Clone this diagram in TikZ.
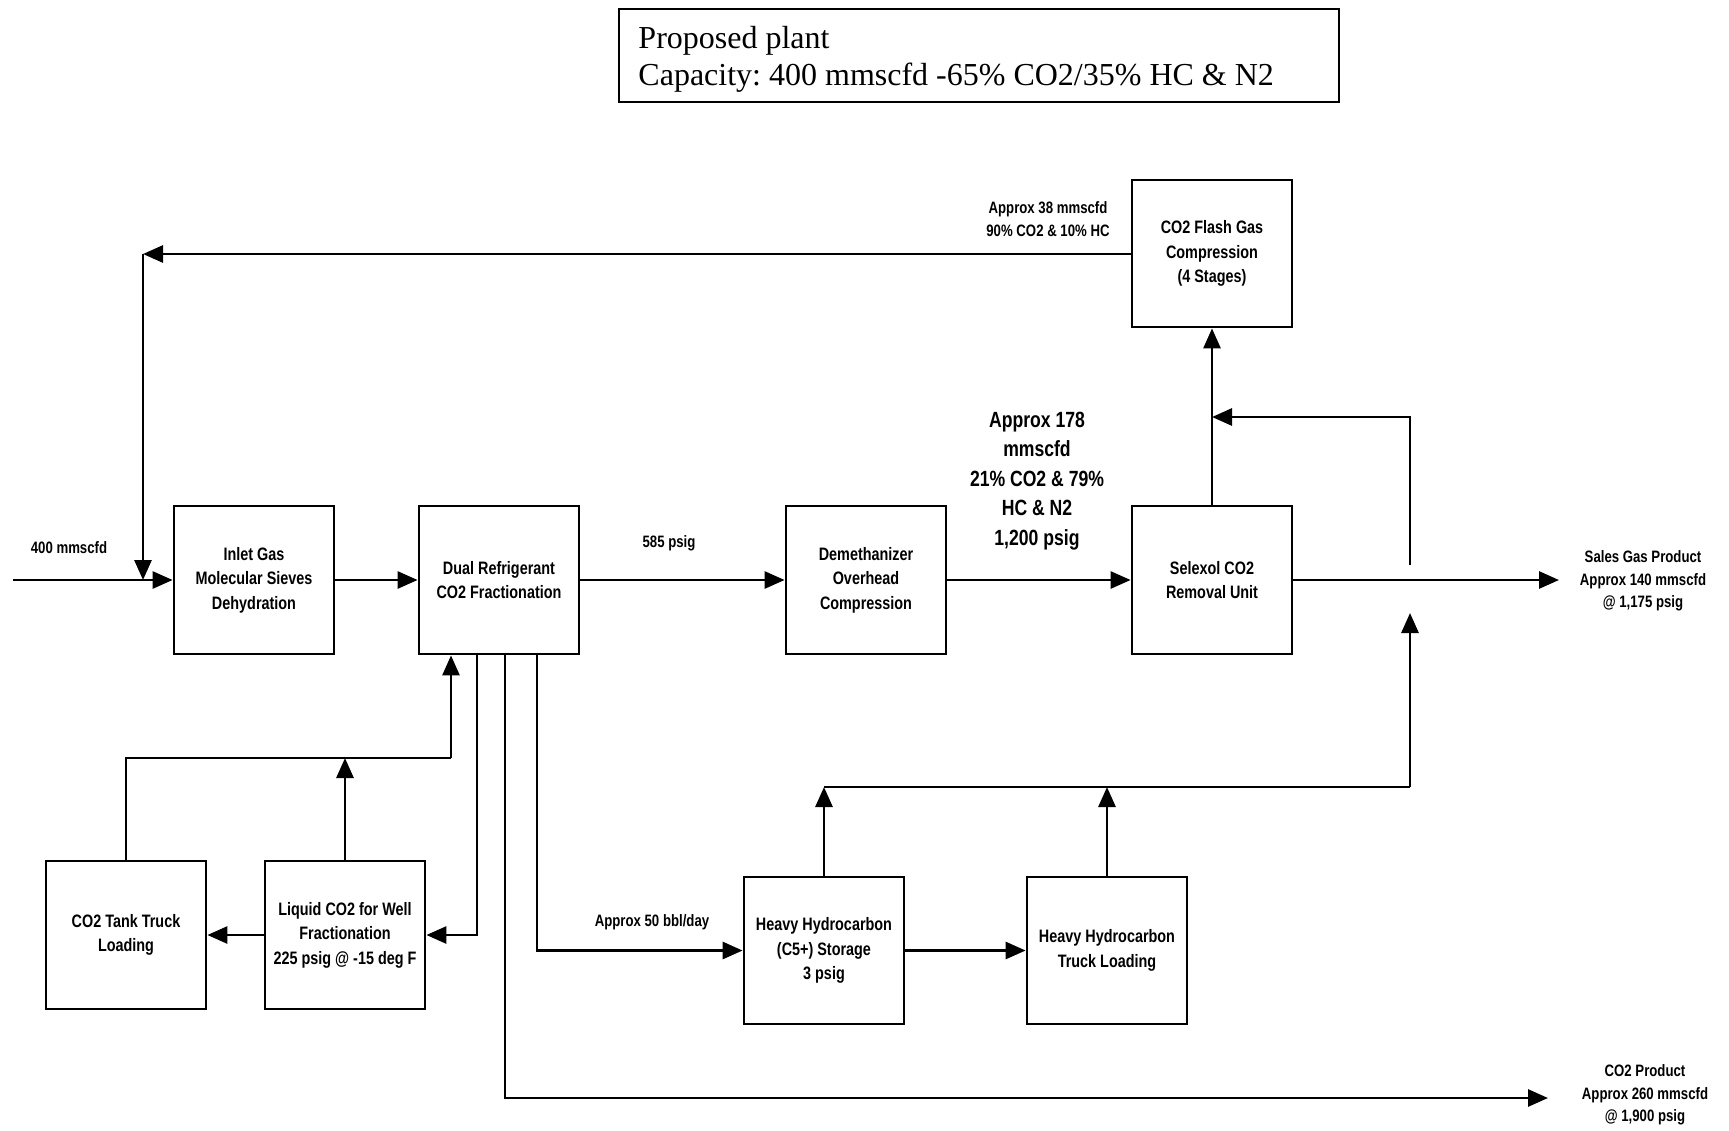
\documentclass[tikz,border=0pt]{standalone}
\usepackage{fontspec}
\setmainfont{Liberation Sans}[FakeStretch=0.80]
\newfontfamily\titlefont{Liberation Serif}
\usetikzlibrary{arrows.meta}
\frenchspacing
\begin{document}
\begin{tikzpicture}[x=1pt,y=-1pt,
  box/.style={draw,line width=2.8pt,minimum width=160pt,minimum height=148pt,inner sep=0pt,align=center,font=\fontsize{18}{24.5}\selectfont\bfseries},
  flow/.style={line width=2.8pt,-{Triangle[length=20pt,width=17pt]}},
  pipe/.style={line width=2.8pt},
  lbl/.style={align=center,inner sep=0pt,font=\fontsize{16.5}{22.5}\selectfont\bfseries},
  biglbl/.style={align=center,inner sep=0pt,font=\fontsize{22}{29.5}\selectfont\bfseries}]
\useasboundingbox (0,0) rectangle (1729,1130);
% title
\node[draw,line width=1.5pt,minimum width=720pt,minimum height=93pt,inner sep=0pt] (titlebox) at (979,55.5) {};
\node[anchor=west,align=left,inner sep=0pt,font=\titlefont\fontsize{32}{37.5}\selectfont] (title) at ([xshift=20pt,yshift=-4pt]titlebox.west) {Proposed plant\\Capacity: 400 mmscfd -65\% CO2/35\% HC \& N2};
% boxes
\node[box] (inlet) at (254,580) {Inlet Gas\\Molecular Sieves\\Dehydration};
\node[box] (dual) at (499,580) {Dual Refrigerant\\CO2 Fractionation};
\node[box] (demeth) at (866,580) {Demethanizer\\Overhead\\Compression};
\node[box] (selexol) at (1212,580) {Selexol CO2\\Removal Unit};
\node[box,minimum height=147pt] (flash) at (1212,253.5) {CO2 Flash Gas\\Compression\\(4 Stages)};
\node[box] (tank) at (126,935) {CO2 Tank Truck\\Loading};
\node[box] (liquid) at (345,935) {Liquid CO2 for Well\\Fractionation\\225 psig @ -15 deg F};
\node[box,minimum height=147pt] (hhs) at (824,950.5) {Heavy Hydrocarbon\\(C5+) Storage\\3 psig};
\node[box,minimum height=147pt] (hht) at (1107,950.5) {Heavy Hydrocarbon\\Truck Loading};
% coordinates
\coordinate (feed) at (13,580);
\coordinate (rc) at (143,254);
\coordinate (sales) at (1559,580);
\coordinate (fbA) at (1410,565);
\coordinate (fbB) at (1410,417);
\coordinate (upA) at (1410,787);
\coordinate (upB) at (1410,613);
\coordinate (hline) at (824,787);
\coordinate (co2out) at (1548,1098);
\coordinate (liqjoin) at (126,758);
% labels
\node[lbl] (l400) at (69,548) {400 mmscfd};
\node[lbl] (l585) at (669,543) {585 psig};
\node[biglbl] (l178) at (1037,481) {Approx 178\\mmscfd\\21\% CO2 \& 79\%\\HC \& N2\\1,200 psig};
\node[lbl] (l38) at (1048,219) {Approx 38 mmscfd\\90\% CO2 \& 10\% HC};
\node[lbl] (lsales) at (1643,581) {Sales Gas Product\\Approx 140 mmscfd\\@ 1,175 psig};
\node[lbl] (l50) at (652,922) {Approx 50 bbl/day};
\node[lbl] (lco2) at (1645,1095) {CO2 Product\\Approx 260 mmscfd\\@ 1,900 psig};
% main flow
\draw[flow] (feed) -- (inlet.west);
\draw[flow] (inlet.east) -- (dual.west);
\draw[flow] (dual.east) -- (demeth.west);
\draw[flow] (demeth.east) -- (selexol.west);
\draw[flow] (selexol.east) -- (sales);
\draw[flow] (selexol.north) -- (flash.south);
\draw[flow] (fbA) -- (fbB) -- (selexol.north |- fbB);
% recycle
\draw[flow] (flash.west |- rc) -- (rc);
\draw[flow] (rc) -- (rc |- feed);
% heavy HC
\draw[flow] (hhs.east) -- (hht.west);
\draw[flow] (hhs.north) -- (hline);
\draw[flow] (hht.north) -- (hht.north |- hline);
\draw[pipe] (hline) -- (upA);
\draw[flow] (upA) -- (upB);
% dual bottom
\draw[flow] ([xshift=38pt]dual.south) |- (hhs.west);
\draw[flow] ([xshift=6pt]dual.south) |- (co2out);
\draw[flow] ([xshift=-22pt]dual.south) |- (liquid.east);
\draw[pipe] (tank.north) -- (liqjoin) -- ([xshift=-48pt]dual.south |- liqjoin);
\draw[flow] ([xshift=-48pt]dual.south |- liqjoin) -- ([xshift=-48pt]dual.south);
\draw[flow] (liquid.north) -- (liquid.north |- liqjoin);
\draw[flow] (liquid.west) -- (tank.east);
\end{tikzpicture}
\end{document}
